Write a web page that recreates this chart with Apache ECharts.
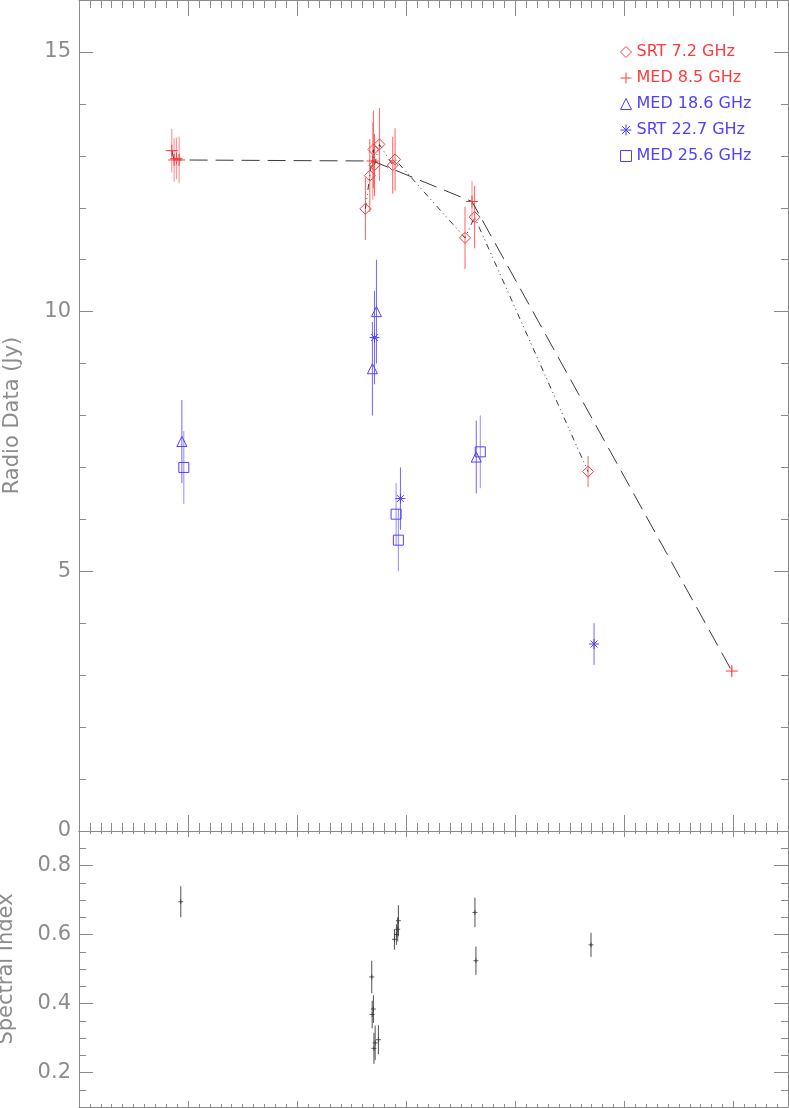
<!DOCTYPE html>
<html>
<head>
<meta charset="utf-8">
<script src="https://cdn.jsdelivr.net/npm/echarts@6/dist/echarts.min.js"></script>
<style>
html,body{margin:0;padding:0;background:#fff;}
#chart{width:789px;height:1108px;}
</style>
</head>
<body>
<div id="chart"></div>
<script>
// ---- data: [epoch (axis units), value, error] ----
const srt72 = [
  [2.626, 11.98, 0.60],
  [2.666, 12.62, 0.70],
  [2.699, 13.12, 0.75],
  [2.709, 12.82, 0.60],
  [2.754, 13.22, 0.70],
  [2.876, 12.82, 0.55],
  [2.898, 12.93, 0.60],
  [3.539, 11.42, 0.60],
  [3.627, 11.82, 0.60],
  [4.667, 6.92, 0.30]
];
const med85 = [
  [0.851, 13.10, 0.42],
  [0.872, 12.92, 0.42],
  [0.893, 12.95, 0.40],
  [0.918, 12.92, 0.45],
  [2.693, 12.90, 0.75],
  [3.603, 12.12, 0.40],
  [5.985, 3.08, 0.08]
];
const med186 = [
  [0.943, 7.50, 0.80],
  [2.690, 8.90, 0.90],
  [2.727, 10.00, 1.00],
  [3.642, 7.20, 0.70]
];
const srt227 = [
  [2.709, 9.50, 0.90],
  [2.947, 6.40, 0.60],
  [4.722, 3.60, 0.40]
];
const med256 = [
  [0.961, 7.00, 0.70],
  [2.907, 6.10, 0.60],
  [2.928, 5.60, 0.60],
  [3.679, 7.30, 0.70]
];
const specIndex = [
  [0.933, 0.695, 0.045],
  [2.684, 0.477, 0.047],
  [2.688, 0.368, 0.040],
  [2.699, 0.384, 0.040],
  [2.704, 0.270, 0.045],
  [2.715, 0.286, 0.050],
  [2.745, 0.295, 0.042],
  [2.892, 0.586, 0.030],
  [2.910, 0.600, 0.030],
  [2.922, 0.615, 0.035],
  [2.928, 0.640, 0.045],
  [3.630, 0.664, 0.043],
  [3.639, 0.524, 0.041],
  [4.694, 0.570, 0.035]
];
const topYTicks = [0, 5, 10, 15];
const botYTicks = [0.2, 0.4, 0.6, 0.8];
const xMajorTicks = [0, 1, 2, 3, 4, 5, 6];
const seriesNames = ['SRT 7.2 GHz', 'MED 8.5 GHz', 'MED 18.6 GHz', 'SRT 22.7 GHz', 'MED 25.6 GHz'];

// ---- styles ----
const FONT = 'DejaVu Sans';
const RED = '#ff3a3a';
const BLUE = '#5040ff';
const AXIS = '#8a8a8a';
const TXT = '#8c8c8c';
const LINE = '#3a3a3a';
const PLUS = 'path://M0,5L10,5M5,0L5,10';
const STAR = 'path://M5,0L5,10M0,5L10,5M1.5,1.5L8.5,8.5M8.5,1.5L1.5,8.5';

function xAxesFor(grid, majorLen, minorLen) {
  const out = [];
  ['bottom', 'top'].forEach(pos => {
    out.push({
      gridIndex: grid, type: 'value', min: 0, max: 6.5, interval: 1, position: pos,
      axisLine: {show: true, onZero: false, lineStyle: {color: AXIS, width: 1}},
      axisTick: {show: true, inside: true, length: majorLen, customValues: xMajorTicks, lineStyle: {color: AXIS}},
      axisLabel: {show: false}, splitLine: {show: false}
    });
    out.push({
      gridIndex: grid, type: 'value', min: 0, max: 6.5, interval: 0.1, position: pos,
      axisLine: {show: false, onZero: false},
      axisTick: {show: true, inside: true, length: minorLen, lineStyle: {color: AXIS}},
      axisLabel: {show: false}, splitLine: {show: false}
    });
  });
  return out;
}
function yAxesFor(grid, min, max, majors, minorInt, name, nameGap, fmt) {
  const out = [];
  ['left', 'right'].forEach(pos => {
    out.push({
      gridIndex: grid, type: 'value', min: min, max: max, position: pos,
      name: pos === 'left' ? name : '', nameLocation: 'middle', nameGap: nameGap,
      nameTextStyle: {fontFamily: FONT, fontSize: 21, color: TXT},
      axisLine: {show: true, onZero: false, lineStyle: {color: AXIS, width: 1}},
      axisTick: {show: true, inside: true, length: 14, customValues: majors, lineStyle: {color: AXIS}},
      axisLabel: {show: pos === 'left', customValues: majors, margin: 8, formatter: fmt,
        fontFamily: FONT, fontSize: 21, color: TXT},
      splitLine: {show: false}
    });
    out.push({
      gridIndex: grid, type: 'value', min: min, max: max, interval: minorInt, position: pos,
      axisLine: {show: false, onZero: false},
      axisTick: {show: true, inside: true, length: 7, lineStyle: {color: AXIS}},
      axisLabel: {show: false}, splitLine: {show: false}
    });
  });
  return out;
}

function errSeries(data, color, xi, yi, opacity) {
  return {
    type: 'custom', xAxisIndex: xi, yAxisIndex: yi, silent: true, z: 2,
    data: data.map(d => [d[0], d[1] - d[2], d[1] + d[2]]),
    encode: {x: 0, y: [1, 2]},
    renderItem: function (params, api) {
      const a = api.coord([api.value(0), api.value(1)]);
      const b = api.coord([api.value(0), api.value(2)]);
      return {type: 'line', shape: {x1: a[0], y1: a[1], x2: b[0], y2: b[1]},
        style: {stroke: color, lineWidth: 1, opacity: opacity}};
    }
  };
}
function markSeries(name, data, symbol, size, color) {
  return {
    name: name, type: 'scatter', xAxisIndex: 0, yAxisIndex: 0, silent: true, z: 4,
    symbol: symbol, symbolSize: size,
    data: data.map(d => [d[0], d[1]]),
    itemStyle: {color: 'transparent', borderColor: color, borderWidth: 1, opacity: 1}
  };
}

const chart = echarts.init(document.getElementById('chart'), null, {renderer: 'canvas'});
const option = {
  animation: false,
  backgroundColor: '#ffffff',
  grid: [
    {left: 79, right: 1, top: 0, height: 831, outerBoundsMode: 'none', containLabel: false},
    {left: 79, right: 1, top: 831, bottom: 1, outerBoundsMode: 'none', containLabel: false}
  ],
  xAxis: [].concat(xAxesFor(0, 16, 8), xAxesFor(1, 6, 3)),
  yAxis: [].concat(
    yAxesFor(0, 0, 16, topYTicks, 1, 'Radio Data (Jy)', 56, v => String(v)),
    yAxesFor(1, 0.1, 0.9, botYTicks, 0.05, 'Spectral Index', 62, v => Number(v).toFixed(1))
  ),
  legend: {
    orient: 'vertical', left: 620, top: 44, padding: 0,
    itemWidth: 11, itemHeight: 11, itemGap: 10, selectedMode: false,
    textStyle: {fontFamily: FONT, fontSize: 16, lineHeight: 16},
    data: [
      {name: seriesNames[0], icon: 'diamond', itemStyle: {color: 'transparent', borderColor: RED, borderWidth: 1}, textStyle: {color: RED}},
      {name: seriesNames[1], icon: PLUS, itemStyle: {color: 'transparent', borderColor: RED, borderWidth: 1}, textStyle: {color: RED}},
      {name: seriesNames[2], icon: 'triangle', itemStyle: {color: 'transparent', borderColor: BLUE, borderWidth: 1}, textStyle: {color: BLUE}},
      {name: seriesNames[3], icon: STAR, itemStyle: {color: 'transparent', borderColor: BLUE, borderWidth: 1}, textStyle: {color: BLUE}},
      {name: seriesNames[4], icon: 'rect', itemStyle: {color: 'transparent', borderColor: BLUE, borderWidth: 1}, textStyle: {color: BLUE}}
    ]
  },
  series: [
    {type: 'line', xAxisIndex: 0, yAxisIndex: 0, silent: true, z: 3, symbol: 'none',
      data: med85.map(d => [d[0], d[1]]),
      lineStyle: {color: LINE, width: 1, type: [18, 8]}},
    {type: 'line', xAxisIndex: 0, yAxisIndex: 0, silent: true, z: 3, symbol: 'none',
      data: srt72.map(d => [d[0], d[1]]),
      lineStyle: {color: LINE, width: 1, type: [6, 4, 1, 3, 1, 4]}},
    errSeries(srt72, RED, 0, 0, 0.8),
    errSeries(med85, RED, 0, 0, 0.6),
    errSeries(med186, BLUE, 0, 0, 0.8),
    errSeries(srt227, BLUE, 0, 0, 0.8),
    errSeries(med256, BLUE, 0, 0, 0.6),
    markSeries(seriesNames[0], srt72, 'diamond', 11, RED),
    markSeries(seriesNames[1], med85, PLUS, 12, RED),
    markSeries(seriesNames[2], med186, 'triangle', 10, BLUE),
    markSeries(seriesNames[3], srt227, STAR, 10, BLUE),
    markSeries(seriesNames[4], med256, 'rect', 10, BLUE),
    errSeries(specIndex, '#333333', 4, 4, 0.85),
    {type: 'scatter', xAxisIndex: 4, yAxisIndex: 4, silent: true, z: 4,
      symbol: PLUS, symbolSize: 5,
      data: specIndex.map(d => [d[0], d[1]]),
      itemStyle: {color: 'transparent', borderColor: '#333333', borderWidth: 1}}
  ]
};
chart.setOption(option);
</script>
</body>
</html>
